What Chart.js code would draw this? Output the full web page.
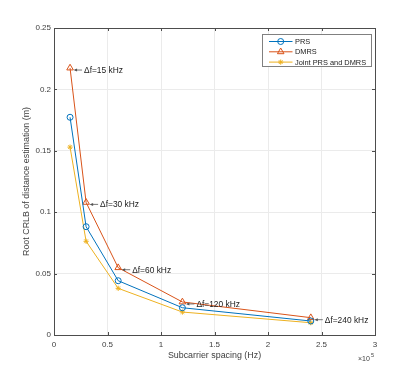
<!DOCTYPE html>
<html>
<head>
<meta charset="utf-8">
<script src="https://cdn.jsdelivr.net/npm/chart.js@4"></script>
<style>
    html, body { margin: 0; padding: 0; background: #ffffff; }
    #wrap { width: 415px; height: 377px; position: relative; }
</style>
</head>
<body>
<div id="wrap"><canvas id="crlbChart" width="415" height="377"></canvas></div>
<script>
const subcarrierHz = [15000, 30000, 60000, 120000, 240000];
const prsCrlb = [0.1773, 0.0882, 0.0442, 0.0222, 0.0114];
const dmrsCrlb = [0.2174, 0.108, 0.0548, 0.0269, 0.0141];
const jointCrlb = [0.153, 0.0763, 0.038, 0.0187, 0.0100];
const spacingLabels = ["\u0394f=15 kHz", "\u0394f=30 kHz", "\u0394f=60 kHz", "\u0394f=120 kHz", "\u0394f=240 kHz"];
const xTickValues = [0, 50000, 100000, 150000, 200000, 250000, 300000];
const yTickValues = [0, 0.05, 0.1, 0.15, 0.2, 0.25];

const FONT = "Arial, 'Liberation Sans', Helvetica, sans-serif";
const AXIS_COLOR = "#4d4d4d";
const TEXT_COLOR = "#404040";

function toPoints(ys) {
    return subcarrierHz.map((x, i) => ({ x: x, y: ys[i] }));
}

const matlabBox = {
    id: "matlabBox",
    afterDraw(chart) {
        const ctx = chart.ctx;
        const area = chart.chartArea;
        const xs = chart.scales.x;
        const ys = chart.scales.y;

        ctx.save();
        // box and inward ticks
        ctx.strokeStyle = AXIS_COLOR;
        ctx.lineWidth = 1;
        ctx.beginPath();
        ctx.rect(Math.round(area.left) + 0.5, Math.round(area.top) + 0.5,
            Math.round(area.right - area.left), Math.round(area.bottom - area.top));
        xTickValues.forEach((v) => {
            const px = Math.round(xs.getPixelForValue(v)) + 0.5;
            ctx.moveTo(px, area.bottom); ctx.lineTo(px, area.bottom - 3);
            ctx.moveTo(px, area.top); ctx.lineTo(px, area.top + 3);
        });
        yTickValues.forEach((v) => {
            const py = Math.round(ys.getPixelForValue(v)) + 0.5;
            ctx.moveTo(area.left, py); ctx.lineTo(area.left + 3, py);
            ctx.moveTo(area.right, py); ctx.lineTo(area.right - 3, py);
        });
        ctx.stroke();

        // exponent label
        ctx.fillStyle = TEXT_COLOR;
        ctx.textBaseline = "alphabetic";
        ctx.textAlign = "left";
        ctx.font = "7px " + FONT;
        ctx.fillText("\u00d710", area.right - 17, area.bottom + 26);
        ctx.font = "5.5px " + FONT;
        ctx.fillText("5", area.right - 4, area.bottom + 22);

        // annotations with arrows, tied to DMRS points
        const meta = chart.getDatasetMeta(1);
        ctx.font = "8.4px " + FONT;
        ctx.textBaseline = "middle";
        meta.data.forEach((pt, i) => {
            const px = pt.x;
            const py = pt.y;
            const ay = py + 2;
            ctx.strokeStyle = "#555555";
            ctx.fillStyle = "#555555";
            ctx.lineWidth = 0.8;
            ctx.beginPath();
            ctx.moveTo(px + 12, ay);
            ctx.lineTo(px + 5, ay);
            ctx.stroke();
            ctx.beginPath();
            ctx.moveTo(px + 3.5, ay);
            ctx.lineTo(px + 7, ay - 1.5);
            ctx.lineTo(px + 7, ay + 1.5);
            ctx.closePath();
            ctx.fill();
            ctx.fillStyle = "#1a1a1a";
            ctx.fillText(spacingLabels[i], px + 14, ay + 0.5);
        });

        // legend box
        const lx = 262.5, ly = 34.5, lw = 109, lh = 32;
        ctx.fillStyle = "#ffffff";
        ctx.fillRect(lx, ly, lw, lh);
        ctx.strokeStyle = "#808080";
        ctx.lineWidth = 1;
        ctx.strokeRect(lx, ly, lw, lh);
        ctx.font = "7.4px " + FONT;
        ctx.textBaseline = "middle";
        chart.data.datasets.forEach((ds, i) => {
            const rowY = 41.5 + i * 10.3;
            ctx.strokeStyle = ds.borderColor;
            ctx.fillStyle = ds.backgroundColor;
            ctx.lineWidth = 1;
            ctx.beginPath();
            ctx.moveTo(269, rowY);
            ctx.lineTo(292.5, rowY);
            ctx.stroke();
            Chart.helpers.drawPoint(ctx, {
                pointStyle: ds.pointStyle,
                radius: ds.pointRadius,
                borderWidth: 1,
                rotation: 0
            }, 280.7, rowY);
            ctx.fillStyle = "#1a1a1a";
            ctx.textAlign = "left";
            ctx.fillText(ds.label, 295, rowY + 0.5);
        });
        ctx.restore();
    }
};

new Chart(document.getElementById("crlbChart"), {
    type: "scatter",
    data: {
        datasets: [{
            label: "PRS",
            data: toPoints(prsCrlb),
            borderColor: "#0072BD",
            backgroundColor: "rgba(0,0,0,0)",
            pointStyle: "circle",
            pointRadius: 3,
            pointBorderWidth: 1,
            borderWidth: 1,
            showLine: true
        }, {
            label: "DMRS",
            data: toPoints(dmrsCrlb),
            borderColor: "#D95319",
            backgroundColor: "rgba(0,0,0,0)",
            pointStyle: "triangle",
            pointRadius: 3.8,
            pointBorderWidth: 1,
            borderWidth: 1,
            showLine: true
        }, {
            label: "Joint PRS and DMRS",
            data: toPoints(jointCrlb),
            borderColor: "#EDB120",
            backgroundColor: "#EDB120",
            pointStyle: "star",
            pointRadius: 2.6,
            pointBorderWidth: 1,
            borderWidth: 1,
            showLine: true
        }]
    },
    options: {
        responsive: false,
        animation: false,
        devicePixelRatio: 1,
        layout: { padding: { top: 28, right: 40, left: 0, bottom: 0 } },
        plugins: {
            legend: { display: false },
            tooltip: { enabled: false }
        },
        scales: {
            x: {
                type: "linear",
                min: 0,
                max: 300000,
                afterFit: (s) => { s.height = 42; },
                afterBuildTicks: (s) => { s.ticks = xTickValues.map((v) => ({ value: v })); },
                ticks: {
                    color: TEXT_COLOR,
                    font: { family: FONT, size: 8 },
                    padding: 5,
                    maxRotation: 0,
                    callback: (v) => String(+(v / 1e5).toFixed(1))
                },
                grid: { color: "#ebebeb", drawTicks: false },
                border: { color: AXIS_COLOR },
                title: {
                    display: true,
                    text: "Subcarrier spacing (Hz)",
                    color: TEXT_COLOR,
                    font: { family: FONT, size: 8.9 },
                    padding: { top: 0, bottom: 16 }
                }
            },
            y: {
                type: "linear",
                min: 0,
                max: 0.25,
                afterFit: (s) => { s.width = 54; },
                afterBuildTicks: (s) => { s.ticks = yTickValues.map((v) => ({ value: v })); },
                ticks: {
                    color: TEXT_COLOR,
                    font: { family: FONT, size: 8 },
                    padding: 3,
                    callback: (v) => String(+v.toFixed(2))
                },
                grid: { color: "#ebebeb", drawTicks: false },
                border: { color: AXIS_COLOR },
                title: {
                    display: true,
                    text: "Root CRLB of distance estimation (m)",
                    color: TEXT_COLOR,
                    font: { family: FONT, size: 8.9 },
                    padding: { top: 21, bottom: 0 }
                }
            }
        }
    },
    plugins: [matlabBox]
});
</script>
</body>
</html>
